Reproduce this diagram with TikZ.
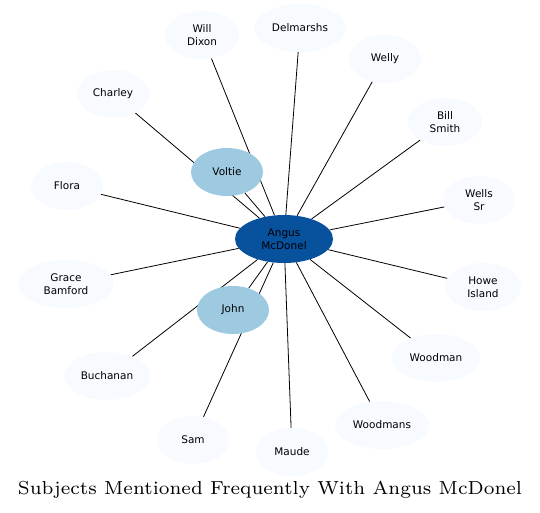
\documentclass[tikz,border=0pt]{standalone}
\usepackage{fontspec}
\newfontfamily\labelfont{DejaVu Sans}
\usetikzlibrary{shapes.geometric, backgrounds}
\definecolor{hubblue}{HTML}{08519C}
\definecolor{midblue}{HTML}{9ECAE1}
\definecolor{paleblue}{HTML}{F7FBFF}

\tikzset{
  subject/.style={ellipse, fill=paleblue, inner sep=0pt, minimum width=72pt,
                  minimum height=48pt, align=center,
                  font=\labelfont\fontsize{10.5}{13}\selectfont},
  linked/.style={subject, fill=midblue},
  hub/.style={subject, fill=hubblue, minimum width=98pt},
  link/.style={black, line width=0.8pt}
}

\begin{document}
\begin{tikzpicture}[x=1pt, y=-1pt]
  \useasboundingbox (0,0) rectangle (540,512);
  % centre of the graph
  \node[hub] (angus) at (284,239) {Angus\\McDonel};
  % subjects drawn over the edges
  \node[linked] (voltie) at (227,172) {Voltie};
  \node[linked] (john) at (233,310) {John};
  \node[subject, minimum width=74pt] (dixon) at (202,35) {Will\\Dixon};
  \node[subject, minimum width=92pt] (delmarshs) at (300,28) {Delmarshs};
  \node[subject] (welly) at (385,59) {Welly};
  \node[subject, minimum width=74pt] (smith) at (445,122) {Bill\\Smith};
  \node[subject] (wells) at (479,200) {Wells\\Sr};
  \node[subject, minimum width=76pt] (howe) at (483,287) {Howe\\Island};
  \node[subject, minimum width=88pt] (woodman) at (436,358) {Woodman};
  \node[subject, minimum width=94pt] (woodmans) at (382,425) {Woodmans};
  \node[subject] (maude) at (292,452) {Maude};
  \node[subject] (sam) at (193,440) {Sam};
  \node[subject, minimum width=86pt] (buchanan) at (107,376) {Buchanan};
  \node[subject, minimum width=96pt] (grace) at (66,284) {Grace\\Bamford};
  \node[subject] (flora) at (67,186) {Flora};
  \node[subject] (charley) at (113,94) {Charley};
  % edges from the centre, kept behind the nodes
  \begin{scope}[on background layer]
    \foreach \other in {voltie, john, dixon, delmarshs, welly, smith, wells,
                        howe, woodman, woodmans, maude, sam, buchanan, grace,
                        flora, charley}
      \draw[link] (angus) -- (\other);
  \end{scope}
  % title
  \node (title) at (270,490)
    {\scalebox{2.69}{\fontsize{7}{8}\selectfont Subjects Mentioned Frequently With Angus McDonel}};
\end{tikzpicture}
\end{document}
